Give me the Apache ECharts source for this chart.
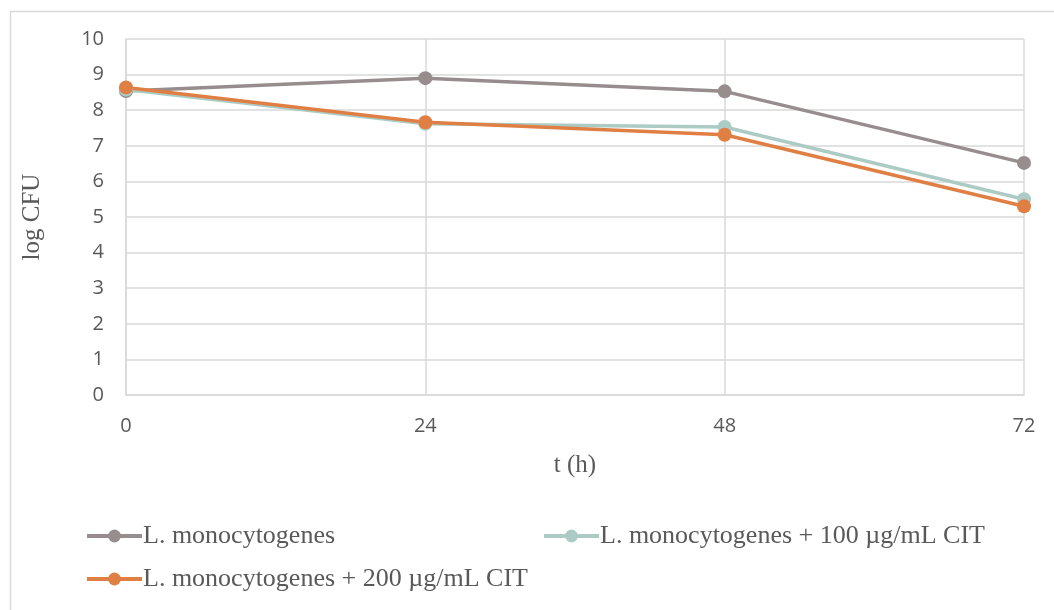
<!DOCTYPE html>
<html>
<head>
<meta charset="utf-8">
<script src="https://cdn.jsdelivr.net/npm/echarts@6/dist/echarts.min.js"></script>
<style>html,body{margin:0;padding:0;background:#fff;}#chart{width:1054px;height:610px;}</style>
</head>
<body>
<div id="chart"></div>
<script>
const hours = [0, 24, 48, 72];
const seriesNames = ['L. monocytogenes', 'L. monocytogenes + 100 µg/mL CIT', 'L. monocytogenes + 200 µg/mL CIT'];
const control = [8.54, 8.90, 8.53, 6.52];
const cit100 = [8.58, 7.62, 7.53, 5.50];
const cit200 = [8.64, 7.66, 7.31, 5.30];
const yTicks = [0, 1, 2, 3, 4, 5, 6, 7, 8, 9, 10];
const colors = ['#978d8d', '#abcbc4', '#e07f43'];

const chart = echarts.init(document.getElementById('chart'));
const serif = '"Liberation Serif", "Times New Roman", serif';
const sans = '"Open Sans", "Liberation Sans", sans-serif';
function mk(name, vals, color) {
  return {
    name: name, type: 'line', data: hours.map((h, i) => [h, vals[i]]),
    symbol: 'circle', symbolSize: 14, color: color,
    lineStyle: { width: 3.5, color: color }, itemStyle: { color: color },
    emphasis: { disabled: true }
  };
}
const legendCommon = {
  itemWidth: 55, itemHeight: 16, orient: 'horizontal',
  lineStyle: { width: 4 },
  textStyle: { fontFamily: serif, fontSize: 26, color: '#595959', padding: [0, 0, 0, -4] },
  padding: 0
};
chart.setOption({
  animation: false,
  backgroundColor: '#fff',
  graphic: [{ type: 'rect', left: 8, top: 9, shape: { width: 1070, height: 640 }, style: { fill: 'none', stroke: '#d9d9d9', lineWidth: 1.5 }, silent: true }],
  grid: { left: 126, right: 30, top: 39, bottom: 215 },
  xAxis: {
    type: 'value', min: 0, max: 72, interval: 24,
    name: 't (h)', nameLocation: 'middle', nameGap: 58,
    nameTextStyle: { fontFamily: serif, fontSize: 25, color: '#595959' },
    axisLine: { show: true, lineStyle: { color: '#d9d9d9', width: 1.5 } },
    axisTick: { show: false },
    axisLabel: { fontFamily: sans, fontSize: 20, color: '#595959', margin: 21 },
    splitLine: { show: true, lineStyle: { color: '#d9d9d9', width: 1.5 } }
  },
  yAxis: {
    type: 'value', min: yTicks[0], max: yTicks[yTicks.length - 1], interval: 1,
    name: 'log CFU', nameLocation: 'middle', nameGap: 81, nameRotate: 90,
    nameTextStyle: { fontFamily: serif, fontSize: 25, color: '#595959' },
    axisLine: { show: true, lineStyle: { color: '#d9d9d9', width: 1.5 } },
    axisTick: { show: false },
    axisLabel: { fontFamily: sans, fontSize: 20, color: '#595959', margin: 22 },
    splitLine: { show: true, lineStyle: { color: '#d9d9d9', width: 1.5 } }
  },
  legend: [
    Object.assign({ left: 85, top: 523, data: [seriesNames[0]] }, legendCommon),
    Object.assign({ left: 542, top: 523, data: [seriesNames[1]] }, legendCommon),
    Object.assign({ left: 85, top: 566, data: [seriesNames[2]] }, legendCommon)
  ],
  series: [
    mk(seriesNames[0], control, colors[0]),
    mk(seriesNames[1], cit100, colors[1]),
    mk(seriesNames[2], cit200, colors[2])
  ]
});
</script>
</body>
</html>
